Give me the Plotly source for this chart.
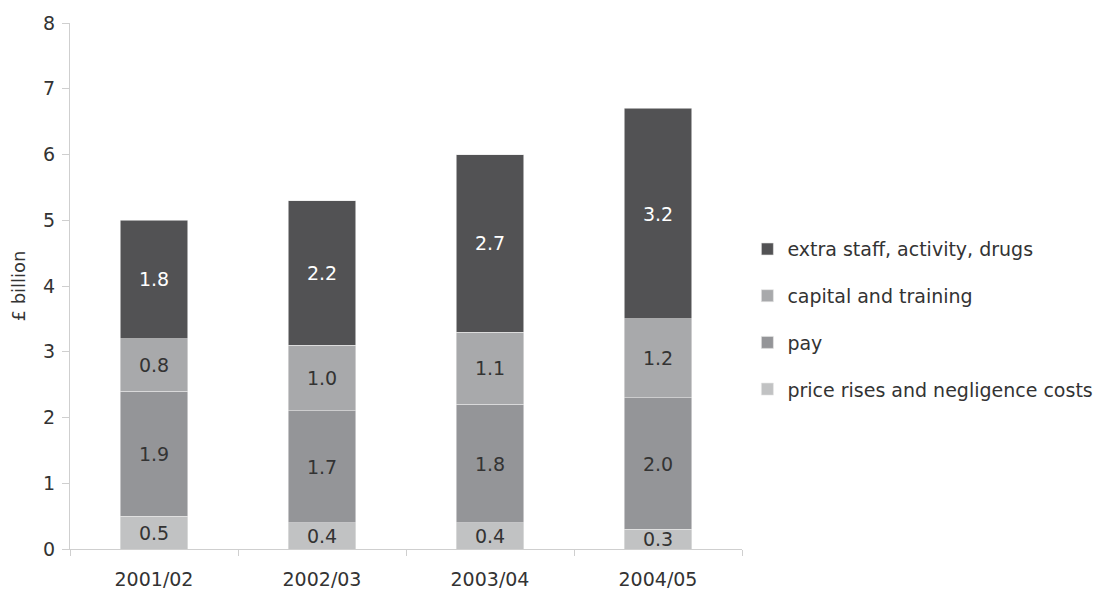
import plotly.graph_objects as go

# Financial years on the category axis
years = ["2001/02", "2002/03", "2003/04", "2004/05"]

# Components of the spending increase, £ billion (bottom to top of each stack)
price_negligence = [0.5, 0.4, 0.4, 0.3]
pay = [1.9, 1.7, 1.8, 2.0]
capital_training = [0.8, 1.0, 1.1, 1.2]
extra_staff = [1.8, 2.2, 2.7, 3.2]

y_ticks = [0, 1, 2, 3, 4, 5, 6, 7, 8]

FONT = "DejaVu Sans, Verdana, sans-serif"
TEXT = "#333333"
AXIS = "#cfcfcf"

# name, values, fill colour, label colour, legend position (1 = top)
series = [
    ("price rises and negligence costs", price_negligence, "#c1c2c3", TEXT, 4),
    ("pay", pay, "#949598", TEXT, 3),
    ("capital and training", capital_training, "#a8a9ab", TEXT, 2),
    ("extra staff, activity, drugs", extra_staff, "#525254", "#ffffff", 1),
]

fig = go.Figure()
for name, values, colour, text_colour, rank in series:
    fig.add_trace(go.Bar(
        x=years,
        y=values,
        name=name,
        legendgroup=name,
        legendrank=rank,
        marker=dict(color=colour, line=dict(color="#e6e6e6", width=0.6)),
        text=[f"{v:.1f}" for v in values],
        textposition="inside",
        insidetextanchor="middle",
        textfont=dict(color=text_colour, size=19, family=FONT),
        hoverinfo="skip",
    ))

fig.update_layout(
    barmode="stack",
    bargap=0.6,
    width=1099,
    height=590,
    margin=dict(l=70, r=357, t=23, b=41, autoexpand=False),
    plot_bgcolor="white",
    paper_bgcolor="white",
    font=dict(family=FONT, color=TEXT, size=19),
    uniformtext=dict(mode="show", minsize=19),
    legend=dict(
        x=1.008, y=0.437, xanchor="left", yanchor="middle",
        traceorder="grouped",
        tracegroupgap=19,
        font=dict(size=19, color=TEXT, family=FONT),
        itemwidth=30,
    ),
    xaxis=dict(
        showline=True, linecolor=AXIS, linewidth=1,
        ticks="outside", tickson="boundaries", ticklen=6, tickcolor=AXIS,
        ticklabelstandoff=13,
        tickfont=dict(size=19),
        showgrid=False, automargin=False,
    ),
    yaxis=dict(
        range=[0, 8],
        tickvals=y_ticks,
        showline=True, linecolor=AXIS, linewidth=1,
        ticks="outside", ticklen=7, tickcolor=AXIS,
        ticklabelstandoff=3,
        tickfont=dict(size=19),
        showgrid=False, zeroline=False, automargin=False,
        title=dict(text="£ billion", font=dict(size=18), standoff=12),
    ),
)

fig.write_html("out.html")
